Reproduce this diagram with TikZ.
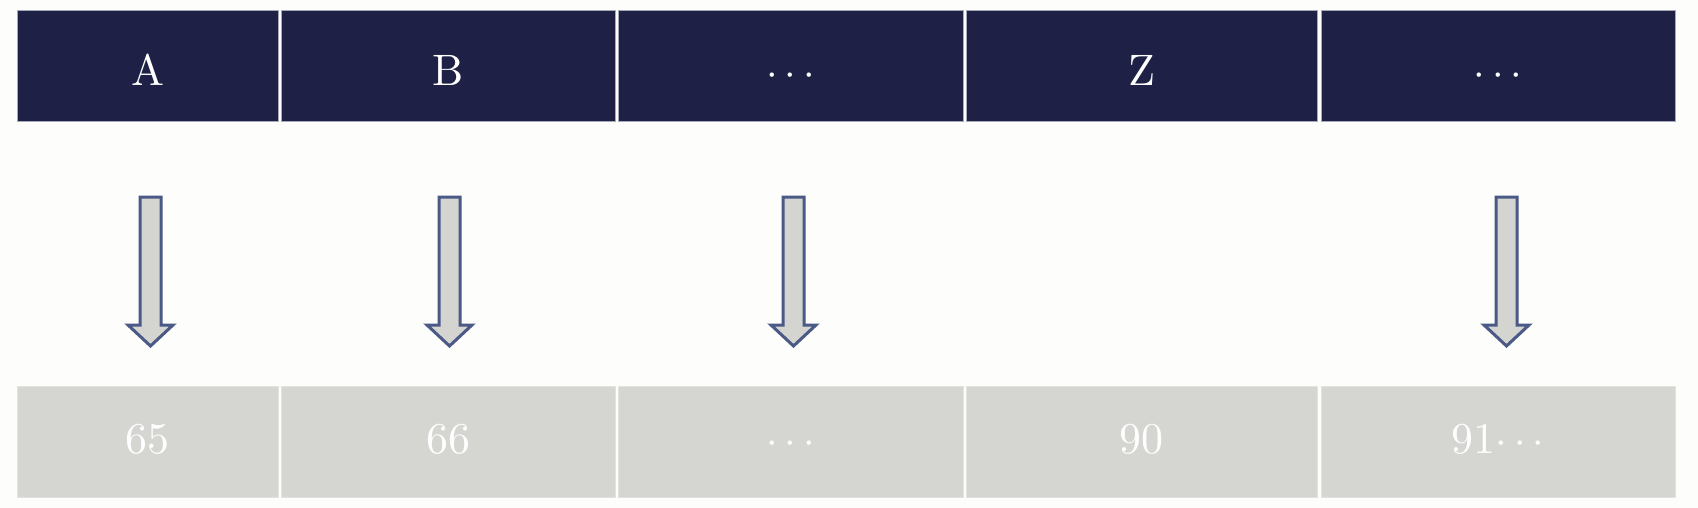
\documentclass[tikz,border=0pt]{standalone}
\usepackage{fontspec}
\setmainfont{lmroman10-regular.otf}
\usetikzlibrary{calc}
\definecolor{navy}{HTML}{1E2145}
\definecolor{navyedge}{HTML}{A6A8BC}
\definecolor{cellgray}{HTML}{D5D6D1}
\definecolor{grayedge}{HTML}{E2E3DF}
\definecolor{arrowfill}{HTML}{D4D4D0}
\definecolor{arrowedge}{HTML}{4A5985}
\definecolor{bgcol}{HTML}{FDFDFB}
\tikzset{
  x=0.5pt, y=-0.5pt,
  cell/.style={rectangle, minimum height=55.5pt, inner sep=0pt, line width=0.5pt,
    text=white, text depth=0pt, font=\fontsize{22}{26}\selectfont},
  topcell/.style={cell, fill=navy, draw=navyedge, text height=19.5pt},
  botcell/.style={cell, fill=cellgray, draw=grayedge, text=white!97!cellgray, text height=11.5pt},
  arrowline/.style={draw=arrowedge, fill=arrowfill, line width=1.5pt, line join=miter},
  pics/downarrow/.style={code={
    \draw[arrowline] (-10.5,0) -- (-10.5,128) -- (-22.5,128) -- (0,149)
      -- (22.5,128) -- (10.5,128) -- (10.5,0) -- cycle;}}
}
\begin{document}
\begin{tikzpicture}
\fill[bgcol] (0,0) rectangle (1698,508);
\useasboundingbox (0,0) rectangle (1698,508);
% top row
\node[topcell, minimum width=130.5pt] (a) at (147.5,66.5) {A};
\node[topcell, minimum width=167pt]   (b) at (448,66.5) {B};
\node[topcell, minimum width=172.5pt] (c) at (790.5,66.5) {$\cdots$};
\node[topcell, minimum width=175.5pt] (z) at (1141.5,66.5) {Z};
\node[topcell, minimum width=177pt]   (e) at (1498,66.5) {$\cdots$};
% bottom row
\node[botcell, minimum width=130.5pt] (a2) at (147.5,441.5) {65};
\node[botcell, minimum width=167pt]   (b2) at (448,441.5) {66};
\node[botcell, minimum width=172.5pt] (c2) at (790.5,441.5) {$\cdots$};
\node[botcell, minimum width=175.5pt] (z2) at (1141.5,441.5) {90};
\node[botcell, minimum width=177pt]   (e2) at (1498,441.5) {91$\cdots$};
% arrows
\pic at ($(a.south)+(3,74.5)$) {downarrow};
\pic at ($(b.south)+(1.5,74.5)$) {downarrow};
\pic at ($(c.south)+(3,74.5)$) {downarrow};
\pic at ($(e.south)+(8.5,74.5)$) {downarrow};
\end{tikzpicture}
\end{document}
